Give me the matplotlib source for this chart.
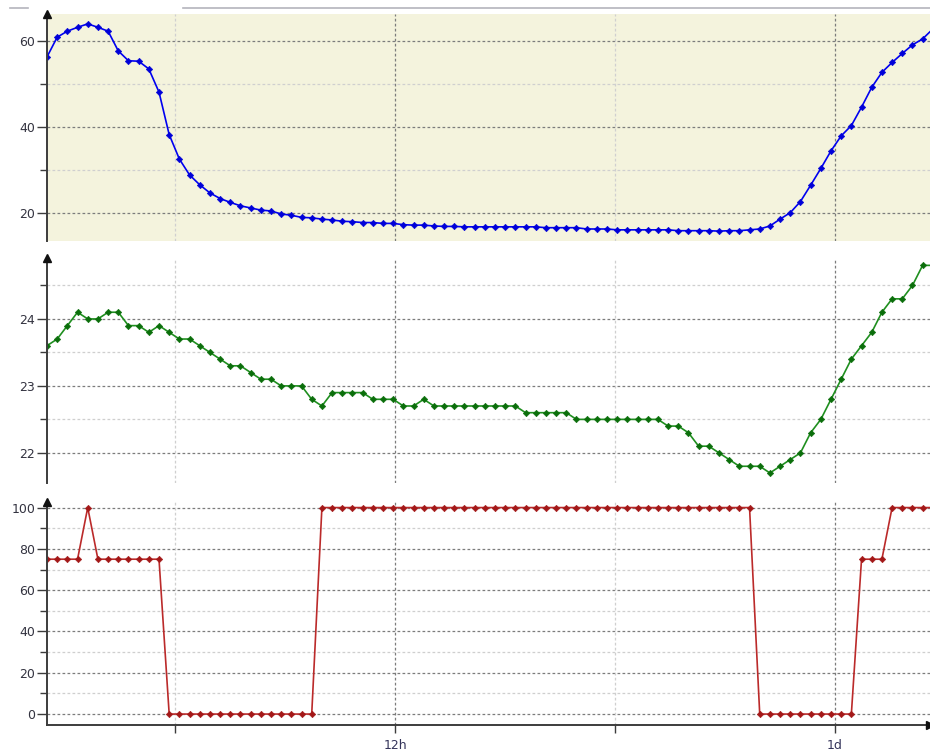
import matplotlib
matplotlib.use("Agg")
import matplotlib.pyplot as plt
from matplotlib.lines import Line2D
import numpy as np

# ── Sampling: one reading every 1000 s, starting 2.5 h into the log ─────────
START_H = 2.5
STEP_H = 1000 / 3600

# ── Series values ──────────────────────────────────────────────────────────
blue_vals = [
    56.3, 60.9, 62.3, 63.2, 64.0, 63.2, 62.3, 57.7, 55.4, 55.3,
    53.5, 48.1, 38.2, 32.5, 28.8, 26.5, 24.6, 23.3, 22.4, 21.6,
    21.1, 20.6, 20.4, 19.7, 19.4, 18.9, 18.8, 18.5, 18.3, 18.0,
    17.9, 17.7, 17.7, 17.5, 17.5, 17.2, 17.1, 17.1, 16.9, 16.8,
    16.8, 16.7, 16.7, 16.7, 16.7, 16.7, 16.7, 16.7, 16.7, 16.5,
    16.5, 16.5, 16.5, 16.2, 16.2, 16.2, 16.0, 16.0, 16.0, 16.0,
    16.0, 16.0, 15.8, 15.8, 15.8, 15.8, 15.7, 15.8, 15.8, 16.0,
    16.2, 16.9, 18.5, 20.0, 22.6, 26.4, 30.3, 34.4, 37.9, 40.3,
    44.6, 49.2, 52.7, 55.0, 57.1, 59.1, 60.5, 62.8,
]
green_vals = [
    23.6, 23.7, 23.9, 24.1, 24.0, 24.0, 24.1, 24.1, 23.9, 23.9,
    23.8, 23.9, 23.8, 23.7, 23.7, 23.6, 23.5, 23.4, 23.3, 23.3,
    23.2, 23.1, 23.1, 23.0, 23.0, 23.0, 22.8, 22.7, 22.9, 22.9,
    22.9, 22.9, 22.8, 22.8, 22.8, 22.7, 22.7, 22.8, 22.7, 22.7,
    22.7, 22.7, 22.7, 22.7, 22.7, 22.7, 22.7, 22.6, 22.6, 22.6,
    22.6, 22.6, 22.5, 22.5, 22.5, 22.5, 22.5, 22.5, 22.5, 22.5,
    22.5, 22.4, 22.4, 22.3, 22.1, 22.1, 22.0, 21.9, 21.8, 21.8,
    21.8, 21.7, 21.8, 21.9, 22.0, 22.3, 22.5, 22.8, 23.1, 23.4,
    23.6, 23.8, 24.1, 24.3, 24.3, 24.5, 24.8, 24.8,
]
red_vals = [
    75, 75, 75, 75, 100, 75, 75, 75, 75, 75,
    75, 75, 0, 0, 0, 0, 0, 0, 0, 0,
    0, 0, 0, 0, 0, 0, 0, 100, 100, 100,
    100, 100, 100, 100, 100, 100, 100, 100, 100, 100,
    100, 100, 100, 100, 100, 100, 100, 100, 100, 100,
    100, 100, 100, 100, 100, 100, 100, 100, 100, 100,
    100, 100, 100, 100, 100, 100, 100, 100, 100, 100,
    0, 0, 0, 0, 0, 0, 0, 0, 0, 0,
    75, 75, 75, 100, 100, 100, 100, 100,
]

x_ticks = [6, 12, 18, 24]
x_tick_labels = ["", "12h", "", "1d"]
x_major = [12, 24]
x_minor = [6, 18]

t_hours = START_H + STEP_H * np.arange(len(blue_vals))

# ── Styling ─────────────────────────────────────────────────────────────────
W, H = 930, 751
XLIM = (2.5, 26.59)
AXIS_COL = "#3c3c3c"
TEXT_COL = "#333340"
GRID_DARK = "#7c7c7c"
GRID_LIGHT = "#cfcfcf"
DASH = (0, (2.2, 1.8))

panels = [
    dict(vals=blue_vals, box=(47, 14, 930, 241), ylim=(13.4, 66.3),
         major=[20, 40, 60], minor=[30, 50],
         line="#0000f0", mark="#0000d8", face="#f4f3dd"),
    dict(vals=green_vals, box=(47, 258, 930, 483), ylim=(21.55, 24.91),
         major=[22, 23, 24], minor=[22.5, 23.5, 24.5],
         line="#1f8f1f", mark="#0b6e0b", face="white"),
    dict(vals=red_vals, box=(47, 502, 930, 725), ylim=(-5.3, 102.7),
         major=[0, 20, 40, 60, 80, 100], minor=[10, 30, 50, 70, 90],
         line="#bb2a2a", mark="#a31818", face="white"),
]

fig = plt.figure(figsize=(W / 100, H / 100), dpi=100)

for k, p in enumerate(panels):
    x0, y0, x1, y1 = p["box"]
    ax = fig.add_axes([x0 / W, 1 - y1 / H, (x1 - x0) / W, (y1 - y0) / H])
    ax.set_facecolor(p["face"])
    ax.set_xlim(*XLIM)
    ax.set_ylim(*p["ylim"])

    # grid lines
    for y in p["major"]:
        ax.axhline(y, color=GRID_DARK, lw=0.9, ls=DASH, zorder=1)
    for y in p["minor"]:
        ax.axhline(y, color=GRID_LIGHT, lw=0.9, ls=DASH, zorder=1)
    for x in x_major:
        ax.axvline(x, color=GRID_DARK, lw=0.9, ls=DASH, zorder=1)
    for x in x_minor:
        ax.axvline(x, color=GRID_LIGHT, lw=0.9, ls=DASH, zorder=1)

    ax.plot(t_hours, p["vals"], color=p["line"], lw=1.2, marker="D", ms=3.3,
            mfc=p["mark"], mec=p["mark"], mew=0.4, zorder=3)

    for side in ("top", "right"):
        ax.spines[side].set_visible(False)
    ax.spines["left"].set_color(AXIS_COL)
    ax.spines["left"].set_linewidth(1.4)
    ax.spines["left"].set_zorder(4)

    ax.set_yticks(p["major"])
    ax.set_yticks(p["minor"], minor=True)
    ax.set_yticklabels([f"{v:g}" for v in p["major"]])
    ax.tick_params(axis="y", which="major", length=7, width=1, color=AXIS_COL,
                   pad=1.5, labelsize=9, labelcolor=TEXT_COL)
    ax.tick_params(axis="y", which="minor", length=5, width=1, color=AXIS_COL)

    # arrow head on the y axis
    ax.plot([0], [1], marker="^", color="#111111", ms=5.5,
            transform=ax.transAxes, clip_on=False, zorder=5)

    if k < 2:
        ax.spines["bottom"].set_visible(False)
        ax.set_xticks([])
    else:
        ax.spines["bottom"].set_color(AXIS_COL)
        ax.spines["bottom"].set_linewidth(1.4)
        ax.set_xticks(x_ticks)
        ax.set_xticklabels(x_tick_labels)
        ax.tick_params(axis="x", length=6, width=1, color=AXIS_COL, pad=4,
                       labelsize=9, labelcolor="#34345a")
        ax.plot([1], [0], marker=">", color="#111111", ms=5.5,
                transform=ax.transAxes, clip_on=False, zorder=5)

# thin frame remnant along the very top
for xa, xb in [(10, 28), (183, 930)]:
    fig.add_artist(Line2D([xa / W, xb / W], [1 - 8 / H] * 2,
                          color="#b4b4bc", lw=1.2))

fig.savefig("out.png", dpi=100)
